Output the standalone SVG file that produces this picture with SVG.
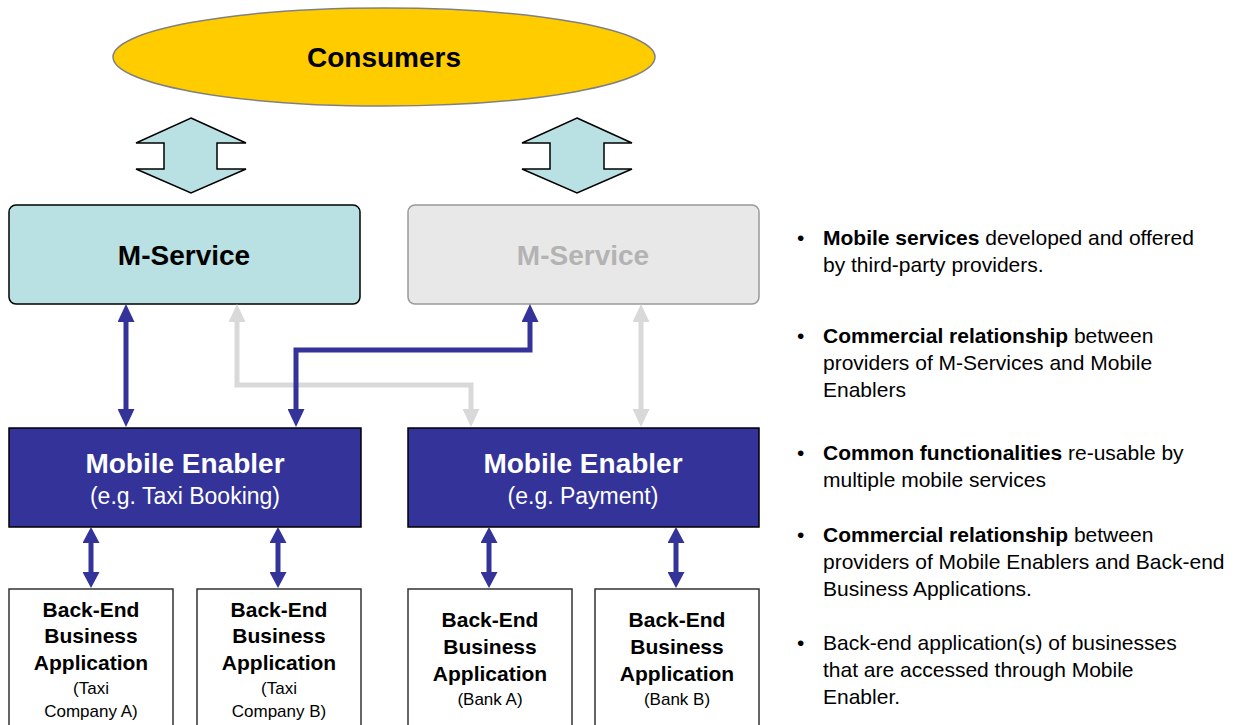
<svg xmlns="http://www.w3.org/2000/svg" width="1249" height="725" viewBox="0 0 1249 725">
<style>
text{font-family:"Liberation Sans",Arial,sans-serif;}
.t28{font-size:28px;font-weight:bold;text-anchor:middle;}
.sub{font-size:23px;text-anchor:middle;fill:#ffffff;}
.be{font-size:21px;font-weight:bold;text-anchor:middle;fill:#000;}
.bs{font-size:17px;text-anchor:middle;fill:#000;}
.bl{font-size:21px;fill:#000;}
.blue{fill:none;stroke:#333399;stroke-width:5;}
.gray{fill:none;stroke:#d9d9d9;stroke-width:5;}
.bigarrow{fill:#b9e0e3;stroke:#000;stroke-width:1.5;stroke-linejoin:miter;}
.backend{fill:#fff;stroke:#333;stroke-width:1.5;}
</style>
<defs>
<marker id="hb" viewBox="0 0 18 17" refX="0" refY="8.5" markerWidth="18" markerHeight="17" markerUnits="userSpaceOnUse" orient="auto-start-reverse"><path d="M0,0 L18,8.5 L0,17 Z" fill="#333399"/></marker>
<marker id="hbs" viewBox="0 0 16 17" refX="0" refY="8.5" markerWidth="16" markerHeight="17" markerUnits="userSpaceOnUse" orient="auto-start-reverse"><path d="M0,0 L16,8.5 L0,17 Z" fill="#333399"/></marker>
<marker id="hg" viewBox="0 0 18 17" refX="0" refY="8.5" markerWidth="18" markerHeight="17" markerUnits="userSpaceOnUse" orient="auto-start-reverse"><path d="M0,0 L18,8.5 L0,17 Z" fill="#d9d9d9"/></marker>
</defs>
<rect width="1249" height="725" fill="#fff"/>

<g id="consumers">
<ellipse cx="384" cy="57" rx="271" ry="49" fill="#ffcc00" stroke="#808080" stroke-width="1.5"/>
<text class="t28" x="384" y="67" fill="#000">Consumers</text>
</g>

<g id="bigarrow-left"><polygon class="bigarrow" points="191,118 246,143 217,143 217,169 246,169 191,193 136,169 164,169 164,143 136,143"/></g>
<g id="bigarrow-right"><polygon class="bigarrow" points="577,118 632,143 604,143 604,169 632,169 577,193 522,169 550,169 550,143 522,143"/></g>

<g id="mservice-1">
<rect x="9" y="205" width="351" height="99" rx="7" fill="#b9e0e3" stroke="#000" stroke-width="1.5"/>
<text class="t28" x="184" y="265" fill="#000">M-Service</text>
</g>
<g id="mservice-2">
<rect x="408" y="205" width="351" height="99" rx="7" fill="#e8e8e8" stroke="#999" stroke-width="1.5"/>
<text class="t28" x="583" y="265" fill="#b3b3b3">M-Service</text>
</g>

<g id="enabler-1">
<rect x="9" y="428" width="352" height="99" fill="#333399" stroke="#000" stroke-width="1.5"/>
<text class="t28" x="185" y="473" fill="#fff">Mobile Enabler</text>
<text class="sub" x="185" y="504">(e.g. Taxi Booking)</text>
</g>
<g id="enabler-2">
<rect x="408" y="428" width="351" height="99" fill="#333399" stroke="#000" stroke-width="1.5"/>
<text class="t28" x="583" y="473" fill="#fff">Mobile Enabler</text>
<text class="sub" x="583" y="504">(e.g. Payment)</text>
</g>

<g id="backend-1">
<rect class="backend" x="9" y="589" width="164" height="145"/>
<text class="be" x="91" y="617">Back-End</text>
<text class="be" x="91" y="643">Business</text>
<text class="be" x="91" y="670">Application</text>
<text class="bs" x="91" y="694">(Taxi</text>
<text class="bs" x="91" y="717">Company A)</text>
</g>
<g id="backend-2">
<rect class="backend" x="197" y="589" width="164" height="145"/>
<text class="be" x="279" y="617">Back-End</text>
<text class="be" x="279" y="643">Business</text>
<text class="be" x="279" y="670">Application</text>
<text class="bs" x="279" y="694">(Taxi</text>
<text class="bs" x="279" y="717">Company B)</text>
</g>
<g id="backend-3">
<rect class="backend" x="408" y="589" width="164" height="145"/>
<text class="be" x="490" y="627">Back-End</text>
<text class="be" x="490" y="654">Business</text>
<text class="be" x="490" y="681">Application</text>
<text class="bs" x="490" y="705">(Bank A)</text>
</g>
<g id="backend-4">
<rect class="backend" x="595" y="589" width="164" height="145"/>
<text class="be" x="677" y="627">Back-End</text>
<text class="be" x="677" y="654">Business</text>
<text class="be" x="677" y="681">Application</text>
<text class="bs" x="677" y="705">(Bank B)</text>
</g>

<g id="connectors">
<path class="gray" d="M237,322 V385 H471 V409" marker-start="url(#hg)" marker-end="url(#hg)"/>
<path class="gray" d="M641,322 V409" marker-start="url(#hg)" marker-end="url(#hg)"/>
<path class="blue" d="M126,322 V409" marker-start="url(#hb)" marker-end="url(#hb)"/>
<path class="blue" d="M296,409 V350 H530 V322" marker-start="url(#hb)" marker-end="url(#hb)"/>
<path class="blue" d="M91,543 V572" marker-start="url(#hbs)" marker-end="url(#hbs)"/>
<path class="blue" d="M278,543 V572" marker-start="url(#hbs)" marker-end="url(#hbs)"/>
<path class="blue" d="M489,543 V572" marker-start="url(#hbs)" marker-end="url(#hbs)"/>
<path class="blue" d="M676,543 V572" marker-start="url(#hbs)" marker-end="url(#hbs)"/>
</g>

<g id="notes">
<text class="bl" x="797" y="245">•</text>
<text class="bl" x="823" y="245"><tspan font-weight="bold">Mobile services</tspan> developed and offered</text>
<text class="bl" x="823" y="272">by third-party providers.</text>

<text class="bl" x="797" y="343">•</text>
<text class="bl" x="823" y="343"><tspan font-weight="bold">Commercial relationship</tspan> between</text>
<text class="bl" x="823" y="370">providers of M-Services and Mobile</text>
<text class="bl" x="823" y="397">Enablers</text>

<text class="bl" x="797" y="460">•</text>
<text class="bl" x="823" y="460"><tspan font-weight="bold">Common functionalities</tspan> re-usable by</text>
<text class="bl" x="823" y="487">multiple mobile services</text>

<text class="bl" x="797" y="542">•</text>
<text class="bl" x="823" y="542"><tspan font-weight="bold">Commercial relationship</tspan> between</text>
<text class="bl" x="823" y="569">providers of Mobile Enablers and Back-end</text>
<text class="bl" x="823" y="596">Business Applications.</text>

<text class="bl" x="797" y="650">•</text>
<text class="bl" x="823" y="650">Back-end application(s) of businesses</text>
<text class="bl" x="823" y="677">that are accessed through Mobile</text>
<text class="bl" x="823" y="704">Enabler.</text>
</g>
</svg>
